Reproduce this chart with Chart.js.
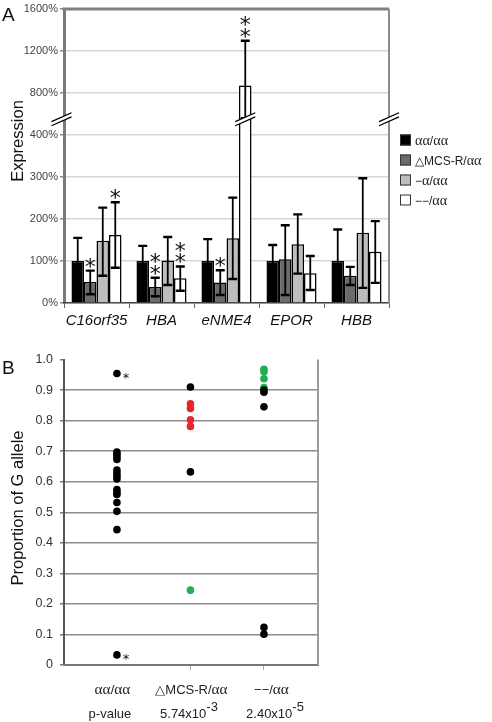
<!DOCTYPE html>
<html><head><meta charset="utf-8">
<script src="https://cdn.jsdelivr.net/npm/chart.js@4.4.1/dist/chart.umd.min.js"></script>
<style>
html,body{margin:0;padding:0;background:#fff;}
#wrap{position:relative;width:492px;height:722px;overflow:hidden;background:#fff;}
canvas{position:absolute;left:0;}
#cA{top:0;} #cB{top:345px;}
</style></head><body>
<div id="wrap"><canvas id="cA" width="492" height="345"></canvas><canvas id="cB" width="492" height="377"></canvas></div>
<script>
const SANS = '"Liberation Sans", Arial, Helvetica, sans-serif';
const SERIF = '"Liberation Serif", "Times New Roman", serif';

// ---------- Panel A data (expression, %) ----------
const categories = ['C16orf35', 'HBA', 'eNME4', 'EPOR', 'HBB'];
const seriesLabels = ['αα/αα', '△MCS-R/αα', '−α/αα', '−−/αα'];
const tickLabelsA = ['0%', '100%', '200%', '300%', '400%', '800%', '1200%', '1600%'];
const meanAA = [100, 100, 100, 100, 100];
const highAA = [155, 136, 152, 138, 175];
const lowAA = [45, 64, 48, 62, 25];
const meanMCS = [50, 38, 49, 104, 65];
const highMCS = [77, 60, 78, 185, 86];
const lowMCS = [21, 16, 19, 19, 43];
const meanMinus1 = [148, 101, 154, 140, 167];
const highMinus1 = [227, 157, 251, 211, 297];
const lowMinus1 = [65, 43, 57, 70, 36];
const meanMinus2 = [162, 59, 872, 71, 122];
const highMinus2 = [240, 87, 1298, 112, 195];
const lowMinus2 = [84, 29, 560, 31, 48];
const starsAA = [0, 0, 0, 0, 0];
const starsMCS = [1, 2, 1, 0, 0];
const starsMinus1 = [0, 0, 0, 0, 0];
const starsMinus2 = [1, 2, 2, 0, 0];
const axisSplit = 400;   // above this the axis is compressed
const axisCompress = 4;
const breakValue = 550;

// ---------- Panel B data (proportion of G allele) ----------
const groupsB = ['αα/αα', '△MCS-R/αα', '−−/αα'];
const pValueLabels = ['p-value', '5.74x10^-3', '2.40x10^-5'];
const tickLabelsB = ['0', '0.1', '0.2', '0.3', '0.4', '0.5', '0.6', '0.7', '0.8', '0.9', '1.0'];
const aaBlack = [0.954, 0.697, 0.690, 0.681, 0.673, 0.638, 0.628, 0.618, 0.609, 0.574, 0.565, 0.558, 0.532, 0.503, 0.443, 0.033];
const mcsBlack = [0.910, 0.632];
const mcsRed = [0.855, 0.840, 0.803, 0.781];
const mcsGreen = [0.245];
const delBlack = [0.900, 0.893, 0.845, 0.123, 0.101];
const delGreen = [0.968, 0.960, 0.937, 0.908];
const starredB = [0.954, 0.033];

// ---------- helpers ----------
function toAxis(v) { return v <= axisSplit ? v : axisSplit + (v - axisSplit) / axisCompress; }
function segsOf(str, size) {
  const segs = [];
  for (const ch of str) {
    const a = ch === 'α';
    const f = a ? `${(size * 1.18).toFixed(1)}px ${SERIF}` : `${size}px ${SANS}`;
    if (segs.length && segs[segs.length - 1].f === f) segs[segs.length - 1].t += ch;
    else segs.push({ t: ch, f, dy: 0 });
  }
  return segs;
}
function supSegs(str, size) {
  const parts = str.split('^');
  const segs = [{ t: parts[0], f: `${size}px ${SANS}`, dy: 0 }];
  if (parts[1]) segs.push({ t: parts[1], f: `${size}px ${SANS}`, dy: -7.5 });
  return segs;
}
function drawSegs(ctx, segs, x, y, align, color) {
  ctx.save(); ctx.fillStyle = color; ctx.textBaseline = 'alphabetic'; ctx.textAlign = 'left';
  let w = 0;
  for (const s of segs) { ctx.font = s.f; s.w = ctx.measureText(s.t).width; w += s.w; }
  let cx = align === 'center' ? x - w / 2 : (align === 'right' ? x - w : x);
  for (const s of segs) { ctx.font = s.f; ctx.fillText(s.t, cx, y + s.dy); cx += s.w; }
  ctx.restore();
}
function drawStar(ctx, x, cy, size) {
  ctx.save();
  ctx.font = `${size}px "DejaVu Sans", sans-serif`;
  ctx.textAlign = 'center'; ctx.textBaseline = 'alphabetic'; ctx.fillStyle = '#111';
  const m = ctx.measureText('*');
  const mid = (m.actualBoundingBoxAscent - m.actualBoundingBoxDescent) / 2;
  ctx.fillText('*', x, cy + mid);
  ctx.restore();
}

// ---------- Panel A ----------
const seriesA = [
  { mean: meanAA, high: highAA, low: lowAA, stars: starsAA, color: '#000000' },
  { mean: meanMCS, high: highMCS, low: lowMCS, stars: starsMCS, color: '#6b6b6b' },
  { mean: meanMinus1, high: highMinus1, low: lowMinus1, stars: starsMinus1, color: '#bdbdbd' },
  { mean: meanMinus2, high: highMinus2, low: lowMinus2, stars: starsMinus2, color: '#ffffff' }
];

const pluginA = {
  id: 'pluginA',
  afterDatasetsDraw(chart) {
    const ctx = chart.ctx, y = chart.scales.y;
    seriesA.forEach((s, i) => {
      const meta = chart.getDatasetMeta(i);
      meta.data.forEach((bar, j) => {
        const x = bar.x;
        const yH = y.getPixelForValue(toAxis(s.high[j]));
        const yL = y.getPixelForValue(toAxis(s.low[j]));
        ctx.save();
        ctx.strokeStyle = '#000'; ctx.lineWidth = 1.8;
        ctx.beginPath(); ctx.moveTo(x, yH); ctx.lineTo(x, yL); ctx.stroke();
        ctx.lineWidth = 2.4;
        ctx.beginPath(); ctx.moveTo(x - 4.5, yH); ctx.lineTo(x + 4.5, yH);
        ctx.moveTo(x - 4.5, yL); ctx.lineTo(x + 4.5, yL); ctx.stroke();
        ctx.restore();
        for (let k = 0; k < s.stars[j]; k++) drawStar(ctx, x, yH - 8 - k * 11.5, 22);
      });
    });
  },
  afterDraw(chart) {
    const ctx = chart.ctx, a = chart.chartArea, y = chart.scales.y;
    ctx.save();
    // top and right frame
    ctx.strokeStyle = '#808080'; ctx.lineWidth = 3;
    ctx.beginPath(); ctx.moveTo(a.left - 1.5, a.top); ctx.lineTo(a.right, a.top); ctx.stroke();
    ctx.strokeStyle = '#8c8c8c'; ctx.lineWidth = 2;
    ctx.beginPath(); ctx.moveTo(a.right, a.top); ctx.lineTo(a.right, a.bottom); ctx.stroke();
    // axis breaks
    const cy = y.getPixelForValue(toAxis(breakValue));
    const midBar = chart.getDatasetMeta(3).data[2];
    [a.left - 2.5, midBar.x, a.right].forEach(cx => {
      const dx = 10, dy = 4.4, g = 4.2;
      ctx.fillStyle = '#fff';
      ctx.beginPath();
      ctx.moveTo(cx - dx, cy + dy - g / 2); ctx.lineTo(cx + dx, cy - dy - g / 2);
      ctx.lineTo(cx + dx, cy - dy + g / 2); ctx.lineTo(cx - dx, cy + dy + g / 2);
      ctx.closePath(); ctx.fill();
      ctx.strokeStyle = '#000'; ctx.lineWidth = 1.3;
      ctx.beginPath();
      ctx.moveTo(cx - dx, cy + dy - g / 2); ctx.lineTo(cx + dx, cy - dy - g / 2);
      ctx.moveTo(cx - dx, cy + dy + g / 2); ctx.lineTo(cx + dx, cy - dy + g / 2);
      ctx.stroke();
    });
    // legend
    seriesA.forEach((s, i) => {
      const lx = a.right + 11, ly = 140 + i * 20;
      ctx.fillStyle = s.color; ctx.fillRect(lx, ly - 5.5, 11, 11);
      ctx.strokeStyle = '#333'; ctx.lineWidth = 1; ctx.strokeRect(lx + 0.5, ly - 5, 10, 10);
      drawSegs(ctx, segsOf(seriesLabels[i], 12), lx + 15, ly + 4.5, 'left', '#222');
    });
    // titles
    ctx.fillStyle = '#111'; ctx.font = `19px ${SANS}`; ctx.textAlign = 'left'; ctx.textBaseline = 'alphabetic';
    ctx.fillText('A', 2, 21);
    ctx.translate(18.5, 141); ctx.rotate(-Math.PI / 2);
    ctx.font = `16.5px ${SANS}`; ctx.textAlign = 'center'; ctx.textBaseline = 'middle';
    ctx.fillText('Expression', 0, 0);
    ctx.restore();
  }
};

new Chart(document.getElementById('cA'), {
  type: 'bar',
  data: {
    labels: categories,
    datasets: seriesA.map((s, i) => ({
      label: seriesLabels[i],
      data: s.mean.map(toAxis),
      backgroundColor: s.color,
      borderColor: '#000',
      borderWidth: 1.5,
      borderSkipped: 'bottom',
      categoryPercentage: 0.77,
      barPercentage: 1.0
    }))
  },
  options: {
    responsive: false, animation: false, devicePixelRatio: 1, events: [],
    layout: { padding: { top: 9, right: 103, left: 0, bottom: 0 } },
    plugins: { legend: { display: false }, tooltip: { enabled: false } },
    scales: {
      y: {
        min: 0, max: 700,
        afterFit: s => { s.width = 64; },
        ticks: { stepSize: 100, callback: v => tickLabelsA[Math.round(v / 100)], font: { family: SANS, size: 11 }, color: '#444', padding: 2 },
        grid: { color: '#d6d6d6', lineWidth: 1.5, tickColor: '#888', tickLength: 4 },
        border: { color: '#7a7a7a', width: 3 }
      },
      x: {
        afterFit: s => { s.height = 42; },
        ticks: { font: { family: SANS, size: 15, style: 'italic' }, color: '#111', padding: 4, maxRotation: 0, minRotation: 0, autoSkip: false },
        grid: { drawOnChartArea: false, offset: true, tickLength: 5, tickColor: '#666' },
        border: { color: '#444', width: 1.5 }
      }
    }
  },
  plugins: [pluginA]
});

// ---------- Panel B ----------
const blackPts = [].concat(aaBlack.map(v => ({ x: 1, y: v })), mcsBlack.map(v => ({ x: 2, y: v })), delBlack.map(v => ({ x: 3, y: v })));
const redPts = mcsRed.map(v => ({ x: 2, y: v }));
const greenPts = [].concat(mcsGreen.map(v => ({ x: 2, y: v })), delGreen.map(v => ({ x: 3, y: v })));

const pluginB = {
  id: 'pluginB',
  afterDatasetsDraw(chart) {
    const ctx = chart.ctx;
    const meta = chart.getDatasetMeta(0);
    meta.data.forEach((pt, i) => {
      if (starredB.includes(blackPts[i].y) && blackPts[i].x === 1) drawStar(ctx, pt.x + 9, pt.y + 2, 13);
    });
  },
  afterDraw(chart) {
    const ctx = chart.ctx, a = chart.chartArea, xs = chart.scales.x;
    ctx.save();
    ctx.strokeStyle = '#9a9a9a'; ctx.lineWidth = 2;
    ctx.beginPath(); ctx.moveTo(a.right, a.top); ctx.lineTo(a.right, a.bottom); ctx.stroke();
    const shift1 = [-4.5, 1, 7.5], shift2 = [-7, -1.5, 11];
    groupsB.forEach((g, i) => {
      const px = xs.getPixelForValue(i + 1);
      drawSegs(ctx, segsOf(g, 13), px + shift1[i], 348.5, 'center', '#222');
      drawSegs(ctx, supSegs(pValueLabels[i], 13), px + shift2[i], 373, 'center', '#222');
    });
    ctx.fillStyle = '#111'; ctx.font = `19px ${SANS}`; ctx.textAlign = 'left'; ctx.textBaseline = 'alphabetic';
    ctx.fillText('B', 2, 29);
    ctx.translate(18, 163); ctx.rotate(-Math.PI / 2);
    ctx.font = `16.5px ${SANS}`; ctx.textAlign = 'center'; ctx.textBaseline = 'middle';
    ctx.fillText('Proportion of G allele', 0, 0);
    ctx.restore();
  }
};

new Chart(document.getElementById('cB'), {
  type: 'scatter',
  data: {
    datasets: [
      { label: 'black', data: blackPts, backgroundColor: '#000', borderWidth: 0, pointRadius: 3.8 },
      { label: 'red', data: redPts, backgroundColor: '#e5262d', borderWidth: 0, pointRadius: 3.8 },
      { label: 'green', data: greenPts, backgroundColor: '#1fae52', borderWidth: 0, pointRadius: 3.8 }
    ]
  },
  options: {
    responsive: false, animation: false, devicePixelRatio: 1, events: [],
    layout: { padding: { top: 14, right: 174, left: 0, bottom: 0 } },
    plugins: { legend: { display: false }, tooltip: { enabled: false } },
    scales: {
      y: {
        min: 0, max: 1,
        afterFit: s => { s.width = 64; },
        ticks: { stepSize: 0.1, callback: v => tickLabelsB[Math.round(v * 10)], font: { family: SANS, size: 12.5 }, color: '#333', padding: 7 },
        grid: { color: c => (c.tick && Math.round(c.tick.value * 10) === 10) ? 'rgba(0,0,0,0)' : '#8c8c8c', lineWidth: 1.5, tickColor: '#777', tickLength: 4 },
        border: { color: '#555', width: 2 }
      },
      x: {
        type: 'linear', min: 0.28, max: 3.735,
        afterFit: s => { s.height = 57; },
        afterBuildTicks: s => { s.ticks = [{ value: 2 }, { value: 3 }]; },
        ticks: { callback: () => '', font: { size: 1 } },
        grid: { drawOnChartArea: false, tickLength: 5, tickColor: '#aaa' },
        border: { color: '#777', width: 2 }
      }
    }
  },
  plugins: [pluginB]
});
</script></body></html>
